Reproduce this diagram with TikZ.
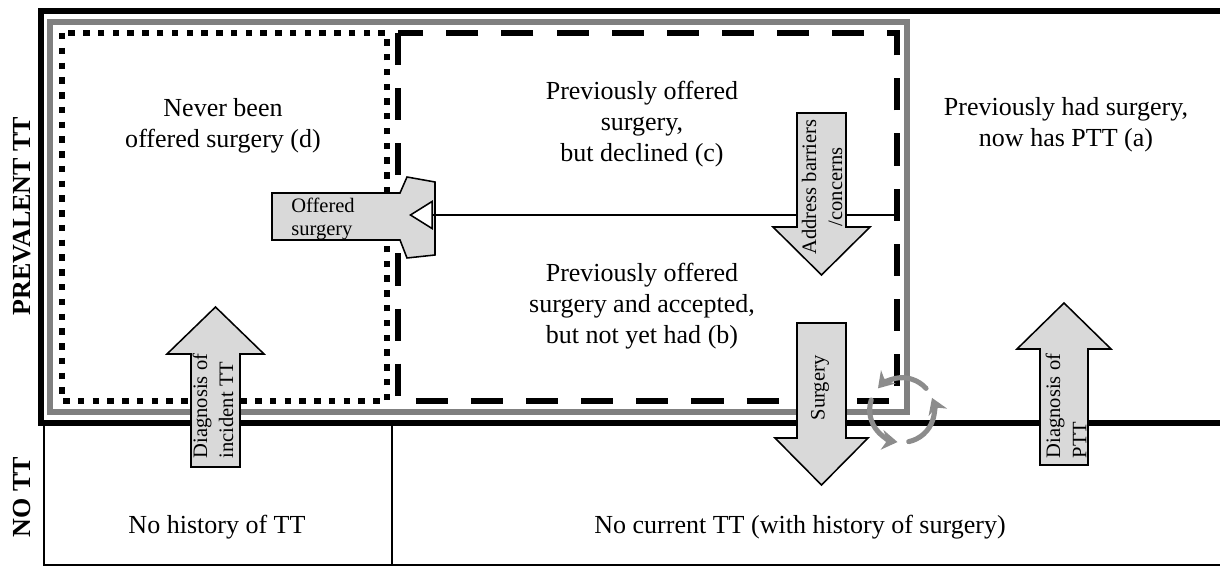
\documentclass[tikz,border=0pt]{standalone}
\usepackage{fontspec}
\setmainfont{Liberation Serif}
\usetikzlibrary{arrows.meta}

\begin{document}
\begin{tikzpicture}[
  x=0.025cm, y=-0.025cm,
  frame/.style     = {line width=4.3pt},
  grayframe/.style = {draw=gray, line width=3.6pt},
  dotbox/.style    = {line width=4.6pt, dash pattern=on 4.6pt off 5.9pt},
  dashbox/.style   = {line width=4.6pt, dash pattern=on 22.8pt off 16.4pt},
  thin/.style      = {line width=1.1pt},
  blockarr/.style  = {draw=black, fill=gray!30, line width=1.1pt},
  lbl/.style       = {font=\fontsize{18.5}{22}\selectfont, align=center},
  side/.style      = {font=\fontsize{18.5}{22}\selectfont\bfseries, rotate=90},
  arrtxt/.style    = {font=\fontsize{14.6}{18.5}\selectfont, inner sep=0pt},
  vtxt/.style      = {arrtxt, rotate=90},
  cyc/.style       = {draw=gray!90, line width=3.6pt, line cap=round,
                      -{Stealth[length=11pt, width=14pt]}},
]
\useasboundingbox (0,0) rectangle (1220,569);

%% --- frames ---
\draw[frame] (1220,11) -- (41,11) -- (41,423) -- (1220,423);
\draw[grayframe] (50,22) rectangle (907,412);
\draw[dotbox]  (62,33) rectangle (387,401);
\draw[dashbox] (398,33) rectangle (897,401);
\draw[thin] (44,423) -- (44,565) -- (1220,565);
\draw[thin] (392,423) -- (392,565);

%% --- side labels ---
\node[side] (prev) at (22,216) {PREVALENT TT};
\node[side] (nott) at (22,497) {NO TT};

%% --- groups ---
\node[lbl] (never)    at (223,126)  {Never been\\offered surgery (d)};
\node[lbl] (declined) at (642,124)  {Previously offered\\surgery,\\but declined (c)};
\node[lbl] (accepted) at (642,306)  {Previously offered\\surgery and accepted,\\but not yet had (b)};
\node[lbl] (hadsurg)  at (1066,125) {Previously had surgery,\\now has PTT (a)};
\node[lbl] (nohist)   at (217,527)  {No history of TT};
\node[lbl] (nocurr)   at (800,527)  {No current TT (with history of surgery)};

%% --- offered surgery ---
\draw[blockarr] (272,193) -- (400,193) -- (407,177) -- (435,182) -- (435,255)
  -- (407,258) -- (400,240) -- (272,240) -- cycle;
\node[arrtxt, align=left, anchor=west,
      font=\fontsize{14.6}{16.4}\selectfont] (offer) at (291,219) {Offered\\surgery};
\coordinate (declright) at (897,215);
\coordinate (offertip)  at (409,215);
\draw[thin, -{Triangle[length=17pt, width=21pt, fill=white]}] (declright) -- (offertip);

%% --- address barriers ---
\draw[blockarr] (797,113) -- (846,113) -- (846,227) -- (870,227) -- (821.5,275)
  -- (773,227) -- (797,227) -- cycle;
\node[vtxt, align=center] (addr) at (822,187) {Address barriers\\/concerns};

%% --- surgery ---
\draw[blockarr] (797,323) -- (846,323) -- (846,438) -- (868,438) -- (821.5,485)
  -- (775,438) -- (797,438) -- cycle;
\node[vtxt] (surg) at (820,388) {Surgery};

%% --- diagnosis arrows ---
\draw[blockarr] (191,467) -- (191,354) -- (167,354) -- (215.5,307) -- (264,354)
  -- (240,354) -- (240,467) -- cycle;
\node[vtxt, align=left] (incid) at (213,406) {Diagnosis of\\incident TT};
\draw[blockarr] (1040,465) -- (1040,349) -- (1017,349) -- (1064,303) -- (1111,349)
  -- (1088,349) -- (1088,465) -- cycle;
\node[vtxt, align=left] (diagptt) at (1066,406) {Diagnosis of\\PTT};

%% --- cycle ---
\coordinate (cyc) at (902,410);
\draw[cyc] ([shift={(42:23pt)}]cyc)  arc[start angle=42,  end angle=138, radius=23pt];
\draw[cyc] ([shift={(162:23pt)}]cyc) arc[start angle=162, end angle=262, radius=23pt];
\draw[cyc] ([shift={(282:23pt)}]cyc) arc[start angle=282, end angle=382, radius=23pt];

\end{tikzpicture}
\end{document}
